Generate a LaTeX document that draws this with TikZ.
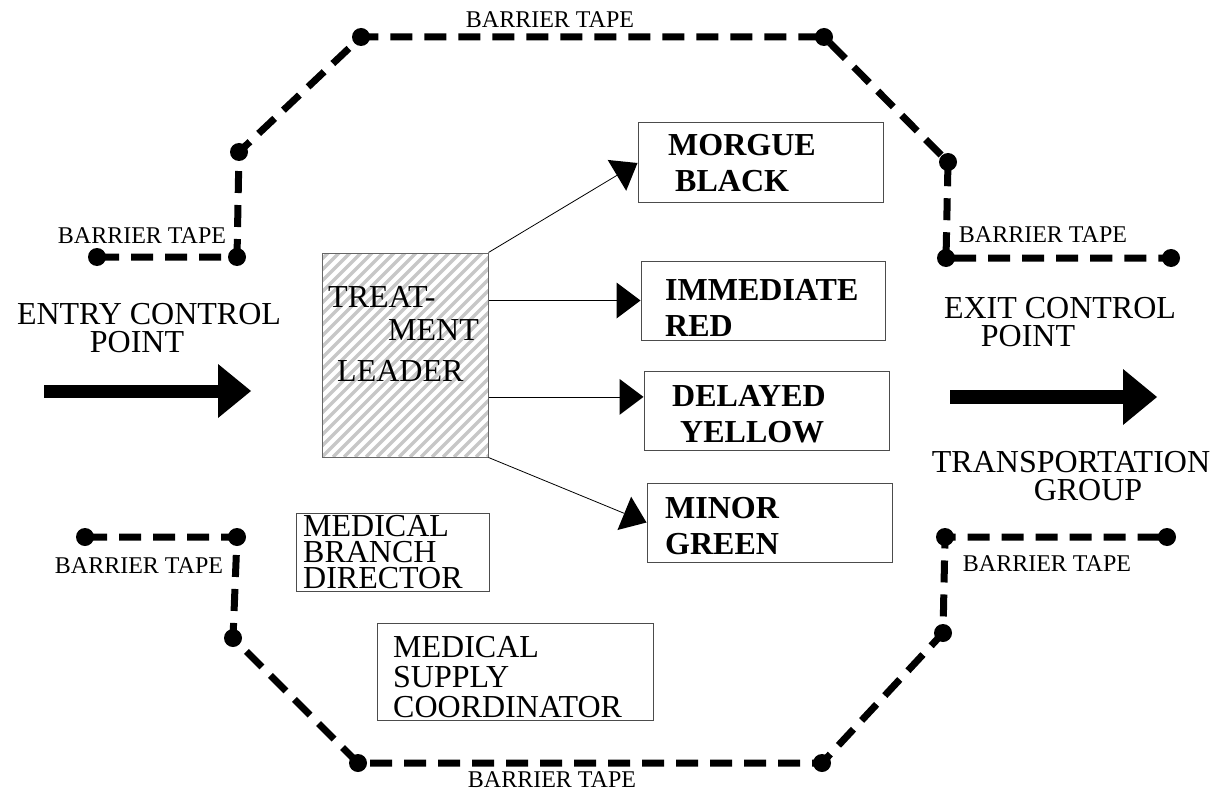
\documentclass[tikz,border=0pt]{standalone}
\usepackage{fontspec}
\setmainfont{Liberation Serif}
\usetikzlibrary{arrows.meta,calc}
\begin{document}
\begin{tikzpicture}[x=1pt,y=-1pt,
  tape/.style={line width=7pt, dash pattern=on 22pt off 12pt},
  tapedot/.style={circle, fill=black, minimum size=18pt, inner sep=0pt},
  tapelabel/.style={inner sep=0pt, font=\fontsize{24}{28}\selectfont},
  bigtext/.style={inner sep=0pt, align=center, font=\fontsize{32}{28}\selectfont},
  boxline/.style={draw=black!70, line width=1pt, inner sep=0pt},
  triagetext/.style={inner sep=0pt, anchor=west, align=left, font=\fontsize{32}{36}\selectfont\bfseries},
  plaintext/.style={inner sep=0pt, anchor=west, align=left},
  thinarrow/.style={line width=0.8pt, -{Triangle[length=24pt,width=36pt,line width=0pt]}},
  hatchline/.style={draw=black!22, line width=3.5pt},
]
\useasboundingbox (0,0) rectangle (1222,794);

% ---- barrier tape, top ----
\coordinate (a1) at (97,257);
\coordinate (a2) at (237,257);
\coordinate (a3) at (239,152);
\coordinate (a4) at (361,37);
\coordinate (a5) at (824,37);
\coordinate (a6) at (948,162);
\coordinate (a7) at (946,258);
\coordinate (a8) at (1171,258);
% ---- barrier tape, bottom ----
\coordinate (b1) at (85,537);
\coordinate (b2) at (237,537);
\coordinate (b3) at (233,638);
\coordinate (b4) at (358,763);
\coordinate (b5) at (822,763);
\coordinate (b6) at (943,633);
\coordinate (b7) at (945,537);
\coordinate (b8) at (1167,537);

\draw[tape] (a1) -- (a2) -- (a3) -- (a4) -- (a5) -- (a6) -- (a7) -- (a8);
\draw[tape] (b1) -- (b2) -- (b3) -- (b4) -- (b5) -- (b6) -- (b7) -- (b8);
\foreach \p in {a1,a2,a3,a4,a5,a6,a7,a8,b1,b2,b3,b4,b5,b6,b7,b8}
  \node[tapedot] (d\p) at (\p) {};

\node[tapelabel] (bt1) at (550,20) {BARRIER TAPE};
\node[tapelabel] (bt2) at (142,236) {BARRIER TAPE};
\node[tapelabel] (bt3) at (1043,235) {BARRIER TAPE};
\node[tapelabel] (bt4) at (139,566) {BARRIER TAPE};
\node[tapelabel] (bt5) at (1047,564) {BARRIER TAPE};
\node[tapelabel] (bt6) at (552,780) {BARRIER TAPE};

% ---- entry / exit ----
\node[bigtext] (entry) at (149,328.5) {ENTRY CONTROL\\POINT\hspace*{24pt}};
\coordinate (entryS) at (44,391);
\coordinate (entryE) at (251,391);
\draw[line width=13pt, -{Triangle[length=33pt,width=54pt,line width=0pt]}] (entryS) -- (entryE);

\node[bigtext] (exitcp) at (1060,322) {EXIT CONTROL\\POINT\hspace*{64pt}};
\coordinate (exitS) at (950,397);
\coordinate (exitE) at (1157,397);
\draw[line width=14pt, -{Triangle[length=34pt,width=56pt,line width=0pt]}] (exitS) -- (exitE);
\node[bigtext] (transp) at (1071,476) {TRANSPORTATION\\\hspace*{34pt}GROUP};

% ---- treatment leader ----
\node[boxline, draw=black!60, minimum width=166pt, minimum height=204pt,
  path picture={\foreach \i in {-220,-209,...,200}
    \draw[hatchline] ([xshift=\i pt]path picture bounding box.south west) -- ++(240,-240);}]
  (tl) at (405,355) {};
\node[plaintext, font=\fontsize{32}{36}\selectfont] (tl1) at (328,297) {TREAT-};
\node[plaintext, font=\fontsize{32}{36}\selectfont] (tl2) at (388,330) {MENT};
\node[plaintext, font=\fontsize{32}{36}\selectfont] (tl3) at (337,371) {LEADER};

% ---- triage boxes ----
\node[boxline, minimum width=245pt, minimum height=80pt] (mb) at (760.5,163) {};
\node[triagetext] (mbt) at (668,163.5) {MORGUE\\\hspace*{7pt}BLACK};
\node[boxline, minimum width=244pt, minimum height=79pt] (ir) at (763,300.5) {};
\node[triagetext] (irt) at (665,307.5) {IMMEDIATE\\RED};
\node[boxline, minimum width=245pt, minimum height=79pt] (dy) at (766.5,410.5) {};
\node[triagetext] (dyt) at (672,414) {DELAYED\\\hspace*{8pt}YELLOW};
\node[boxline, minimum width=245pt, minimum height=79pt] (mg) at (769.5,522.5) {};
\node[triagetext] (mgt) at (665,526.5) {MINOR\\GREEN};

% ---- arrows ----
\coordinate (dyin) at ($(dy.north west)!0.33!(dy.south west)$);
\draw[thinarrow] (tl.north east) -- (mb.west);
\draw[thinarrow] (ir.west -| tl.east) -- (ir.west);
\draw[thinarrow] (dyin -| tl.east) -- (dyin);
\draw[thinarrow] (tl.south east) -- (mg.west);

% ---- medical boxes ----
\node[boxline, minimum width=193pt, minimum height=78pt] (mbd) at (392.5,552) {};
\node[plaintext, font=\fontsize{32}{25.75}\selectfont] (mbdt) at (303,552) {MEDICAL\\BRANCH\\DIRECTOR};
\node[boxline, minimum width=276pt, minimum height=97pt] (msc) at (515,671.5) {};
\node[plaintext, font=\fontsize{32}{30}\selectfont] (msct) at (393,677.5) {MEDICAL\\SUPPLY\\COORDINATOR};
\end{tikzpicture}
\end{document}
